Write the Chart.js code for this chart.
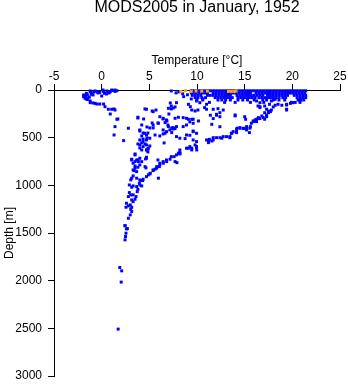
<!DOCTYPE html>
<html>
<head>
<meta charset="utf-8">
<script src="https://cdn.jsdelivr.net/npm/chart.js@4"></script>
<style>
  html, body { margin: 0; padding: 0; background: #fff; }
</style>
</head>
<body>
<canvas id="chart" width="348" height="384"></canvas>
<script>
// [temperature degC, depth m] pairs
const flaggedPoints = [
  [8.3, 15], [8.8, 8], [9.4, 15], [9.9, 10], [10.5, 12], [11.1, 12],
  [13.3, 15], [13.6, 15], [13.9, 15], [14.1, 10]
];

const coldSurface = [
  [-1.9, 52], [-1.75, 87], [-1.6, 35], [-1.2, 18], [-0.9, 52], [-0.35, 28], [0.0, 63], [0.2, 18],
  [0.5, 42], [0.9, 18], [1.2, 5], [-1.2, 133], [-0.7, 140], [-0.2, 147], [0.2, 147], [0.35, 175],
  [0.7, 202], [1.05, 202], [1.6, 307], [1.4, 384], [1.3, 472], [2.3, 531], [2.8, 401], [3.8, 286],
  [-1.2, 10], [-1.0, 30], [-0.7, 10], [-0.4, 30], [0.15, 0], [0.55, 10], [0.65, 30], [1.05, 0],
  [1.4, 0], [-1.8, 63], [-1.6, 94], [-1.45, 84], [-1.2, 115], [-0.9, 136], [-0.5, 147],
  [1.3, 199], [1.4, 210], [0.9, 252], [1.7, 304], [-1.9, 70], [-1.7, 60], [-1.5, 100], [-1.3, 75],
  [-1.5, 50], [-1.1, 45], [-0.8, 20], [-0.5, 15], [-0.2, 25], [0.3, 35], [0.8, 30], [1.4, 15], [1.6, 8]
];

const warmSurface = [
  [7.3, 10], [7.8, 30], [8.1, 20], [8.5, 40], [8.6, 70], [9.0, 50], [9.4, 30],
  [9.4, 8], [9.7, 8], [10.0, 8], [10.3, 8], [10.6, 8], [10.9, 8], [11.2, 8], [11.5, 8], [11.8, 8],
  [12.1, 8], [12.4, 8], [12.7, 8], [13.0, 8], [13.3, 8], [13.6, 8], [13.9, 8], [14.2, 8], [14.5, 8],
  [14.8, 8], [15.1, 8], [15.4, 8], [15.7, 8], [16.0, 8], [16.3, 8], [16.6, 8], [16.9, 8], [17.2, 8],
  [17.5, 8], [17.8, 8], [18.1, 8], [18.4, 8], [18.7, 8], [19.0, 8], [19.3, 8], [19.6, 8], [19.9, 8],
  [20.2, 8], [20.5, 8], [20.8, 8], [21.1, 8], [21.4, 8],
  [9.6, 32], [9.9, 32], [10.2, 32], [10.5, 32], [10.8, 32], [11.1, 32], [11.7, 32], [12.0, 32],
  [12.3, 32], [12.6, 32], [12.9, 32], [13.2, 32], [13.5, 32], [13.8, 32], [14.1, 32], [14.4, 32],
  [14.7, 32], [15.0, 32], [15.3, 32], [15.6, 32], [16.2, 32], [16.5, 32], [16.8, 32], [17.1, 32],
  [17.4, 32], [17.7, 32], [18.0, 32], [18.3, 32], [18.6, 32], [18.9, 32], [19.2, 32], [19.5, 32],
  [19.8, 32], [20.1, 32], [20.4, 32], [20.7, 32], [21.0, 32], [21.3, 32],
  [9.5, 56], [9.8, 56], [10.1, 56], [10.4, 56], [11.1, 56], [11.4, 56], [11.7, 56], [12.0, 56],
  [12.3, 56], [12.6, 56], [12.9, 56], [13.2, 56], [13.5, 56], [14.2, 56], [14.5, 56], [14.8, 56],
  [15.1, 56], [15.4, 56], [15.7, 56], [16.0, 56], [16.3, 56], [16.6, 56], [16.9, 56], [17.4, 56],
  [17.7, 56], [18.0, 56], [18.3, 56], [18.6, 56], [18.9, 56], [19.2, 56], [19.5, 56], [20.2, 56],
  [20.5, 56], [20.8, 56], [21.1, 56], [21.4, 56],
  [9.8, 80], [10.1, 80], [10.5, 80], [10.9, 80], [11.9, 80], [12.2, 80], [12.5, 80], [12.8, 80],
  [13.1, 80], [13.4, 80], [13.7, 80], [14.3, 80], [14.6, 80], [14.9, 80], [15.2, 80], [15.5, 80],
  [15.8, 80], [16.1, 80], [16.5, 80], [16.8, 80], [17.1, 80], [17.4, 80], [17.7, 80], [18.0, 80],
  [18.3, 80], [18.6, 80], [19.0, 80], [19.3, 80], [20.5, 80], [20.8, 80], [21.1, 80], [21.4, 80],
  [10.0, 105], [10.6, 105], [12.2, 105], [12.6, 105], [13.0, 105], [13.5, 105], [14.3, 105],
  [14.8, 105], [15.3, 105], [16.0, 105], [16.9, 105], [17.3, 105], [18.0, 105], [18.6, 105],
  [19.2, 105], [20.6, 105], [20.9, 105], [21.2, 105],
  [11.3, 130], [12.9, 130], [14.0, 130], [15.6, 130], [17.0, 130], [19.9, 130], [20.3, 130], [20.8, 130]
];

const midWater = [
  [4.54, 199], [5.3, 220], [5.7, 210], [3.8, 294], [4.4, 304], [5.3, 346], [5.9, 346], [4.2, 367],
  [4.75, 388], [5.05, 398], [5.4, 398], [4.0, 430], [4.35, 451], [4.85, 451], [5.6, 472], [6.1, 482],
  [6.45, 461], [4.2, 482], [4.35, 514], [4.75, 503], [4.2, 555], [4.55, 566], [3.8, 566], [4.0, 608],
  [4.85, 618], [5.05, 587], [6.45, 304], [6.85, 325], [6.95, 367], [7.4, 398], [7.5, 409],
  [7.3, 168], [7.5, 189], [7.05, 252], [6.55, 555],
  [7.2, 136], [7.7, 178], [7.3, 199], [9.4, 94], [9.95, 115], [10.3, 133], [9.1, 150], [9.3, 175],
  [9.45, 210], [9.8, 220], [10.1, 210], [11.0, 202], [11.7, 202], [12.2, 196], [12.75, 210],
  [12.4, 238], [12.05, 255], [10.6, 94], [11.0, 150], [10.8, 185], [8.55, 290], [9.1, 307],
  [9.6, 307], [10.15, 325], [9.25, 335], [11.4, 265], [12.05, 265], [12.4, 280], [14.0, 272],
  [11.7, 300], [11.55, 360], [7.5, 395], [7.7, 405], [7.35, 447], [9.6, 430], [9.25, 475],
  [8.75, 510], [12.4, 385], [11.3, 517], [11.7, 500], [12.05, 500], [12.4, 500], [12.75, 489],
  [13.45, 500], [11.2, 552], [11.55, 535], [9.95, 604], [14.15, 412], [14.5, 395], [14.85, 405],
  [15.2, 412], [15.5, 447], [14.15, 447], [15.9, 325], [16.25, 307], [16.6, 300], [16.95, 290],
  [17.3, 280], [17.5, 238], [17.3, 202], [16.6, 175], [17.1, 168], [8.2, 657],
  [16.25, 115], [16.6, 133], [16.4, 168], [16.6, 185], [17.8, 115], [18.2, 97], [17.6, 150],
  [18.2, 160], [18.5, 150], [18.9, 160], [19.4, 150], [19.8, 140], [20.1, 133], [19.4, 202],
  [17.6, 220], [17.1, 238], [16.8, 272], [16.45, 290], [16.1, 325], [17.1, 307],
  [17.8, 210], [17.5, 227], [17.3, 262], [16.4, 297], [16.1, 314], [15.9, 332], [15.7, 349],
  [15.6, 384], [15.2, 384], [14.9, 401], [14.5, 401], [14.2, 401], [13.8, 437], [13.65, 454],
  [13.45, 489], [15.0, 280], [15.1, 307], [14.0, 262], [19.4, 210],
  [20.8, 105], [19.4, 157], [18.0, 178], [17.7, 227], [16.25, 332], [15.55, 401], [15.2, 419],
  [14.15, 437], [13.6, 454], [13.1, 489], [12.6, 506], [11.7, 524], [11.2, 541], [11.0, 524],
  [9.95, 594], [9.45, 611], [9.1, 611], [8.2, 663], [7.85, 681], [7.7, 751], [7.3, 699], [6.8, 734],
  [6.45, 751], [6.1, 768], [5.77, 820], [5.4, 838], [5.1, 873], [4.9, 890],
  [4.7, 202], [5.4, 227], [7.85, 133], [7.0, 192], [6.1, 280], [6.45, 297], [6.8, 314], [7.7, 297],
  [8.05, 286], [8.9, 297], [9.45, 307], [5.4, 367], [5.95, 349], [6.65, 342], [7.0, 384],
  [7.35, 401], [7.85, 384], [8.55, 384], [8.9, 367], [9.6, 349], [6.45, 419], [6.8, 437],
  [6.65, 454], [7.15, 419], [4.0, 419], [4.5, 454], [4.7, 472], [4.0, 524], [4.35, 541], [4.7, 524],
  [5.05, 506], [4.0, 576], [4.35, 594], [4.7, 576], [4.2, 629], [4.7, 629], [4.9, 611],
  [8.9, 472], [9.6, 437], [9.95, 454], [7.85, 489], [8.2, 506], [9.6, 524], [9.95, 541],
  [9.25, 594], [8.9, 611], [9.8, 576], [8.2, 629], [8.05, 663]
];

const deepWater = [
  [3.5, 681], [3.67, 734], [3.85, 751], [4.0, 716], [4.7, 716], [3.15, 734], [3.3, 768], [3.5, 820],
  [3.67, 856], [3.3, 838], [3.5, 671], [4.75, 629], [4.85, 650], [4.7, 705], [4.6, 723], [3.15, 726],
  [3.5, 751], [3.8, 734], [4.2, 751], [3.5, 797], [3.8, 810], [4.0, 786], [4.55, 804], [4.65, 817],
  [3.4, 846], [3.3, 901], [3.15, 925], [3.05, 943], [3.67, 925], [4.0, 943], [2.9, 996], [3.15, 1020],
  [3.3, 1006], [3.67, 1013], [4.0, 996], [4.2, 1006], [3.73, 1066], [3.8, 1041], [2.9, 1076],
  [3.05, 1100], [2.8, 1118], [3.3, 1100], [3.6, 1118], [3.5, 1146], [3.15, 1153], [3.3, 1171],
  [2.6, 1188], [2.8, 1216], [2.55, 1230], [3.0, 1205], [3.15, 1230], [3.05, 1251], [3.15, 1275],
  [3.0, 1310], [2.8, 1345], [2.45, 1425], [2.7, 1454],
  [4.35, 936], [4.7, 909], [5.05, 880], [5.4, 846], [5.6, 831], [5.77, 804], [6.1, 786], [6.47, 768],
  [6.82, 751], [7.17, 726], [7.6, 699], [8.2, 671], [5.9, 734], [6.05, 804], [7.9, 762], [9.45, 629],
  [9.97, 629], [5.95, 925], [4.1, 950], [4.3, 950], [3.95, 978],
  [2.45, 1422], [2.6, 1457], [2.55, 1502], [2.5, 1537], [2.45, 1572],
  [1.9, 1862], [2.1, 1897], [2.05, 2015], [1.73, 2508]
];

const tempTicks = [-5, 0, 5, 10, 15, 20, 25];
const depthTicks = [0, 500, 1000, 1500, 2000, 2500, 3000];

const toXY = pts => pts.map(p => ({ x: p[0], y: p[1] }));
const font = size => ({ family: "'Liberation Sans', Arial, sans-serif", size: size, weight: 'normal' });

const pointStyle = {
  pointStyle: 'rect',
  pointRadius: 2.1,
  pointBorderWidth: 0,
  pointHoverRadius: 2.1,
  clip: false
};

new Chart(document.getElementById('chart').getContext('2d'), {
  type: 'scatter',
  data: {
    datasets: [
      Object.assign({ label: 'flagged', data: toXY(flaggedPoints), backgroundColor: '#FFA500' }, pointStyle),
      Object.assign({
        label: 'MODS2005',
        data: toXY(coldSurface.concat(warmSurface, midWater, deepWater)),
        backgroundColor: '#0000FF'
      }, pointStyle)
    ]
  },
  options: {
    responsive: false,
    animation: false,
    layout: { padding: { left: 0, right: 8, top: 0, bottom: 8 } },
    plugins: {
      legend: { display: false },
      tooltip: { enabled: false },
      title: {
        display: true,
        text: 'MODS2005 in January, 1952',
        fullSize: false,
        color: '#000',
        font: Object.assign(font(16), { lineHeight: 1 }),
        padding: { top: 0, bottom: 0 }
      }
    },
    scales: {
      x: {
        type: 'linear',
        position: 'top',
        min: tempTicks[0],
        max: tempTicks[tempTicks.length - 1],
        afterBuildTicks: s => { s.ticks = tempTicks.map(v => ({ value: v })); },
        ticks: { color: '#000', font: font(12), padding: 0, callback: v => String(v) },
        grid: { display: true, drawOnChartArea: false, drawTicks: true, tickLength: 6, color: '#000' },
        border: { display: true, color: '#000', width: 1 },
        title: { display: true, text: 'Temperature [°C]', color: '#000', font: font(12), padding: { top: 37, bottom: 0 } },
        afterFit: s => { s.height = 74; }
      },
      y: {
        type: 'linear',
        reverse: true,
        min: depthTicks[0],
        max: depthTicks[depthTicks.length - 1],
        afterBuildTicks: s => { s.ticks = depthTicks.map(v => ({ value: v })); },
        ticks: { color: '#000', font: font(12), padding: 6, callback: v => String(v) },
        grid: { display: true, drawOnChartArea: false, drawTicks: true, tickLength: 6, color: '#000' },
        border: { display: true, color: '#000', width: 1 },
        title: { display: true, text: 'Depth [m]', color: '#000', font: font(12), padding: { top: 2, bottom: 0 } },
        afterFit: s => { s.width = 54; s.paddingTop = 7; s.paddingBottom = 7; }
      }
    }
  }
});
</script>
</body>
</html>
